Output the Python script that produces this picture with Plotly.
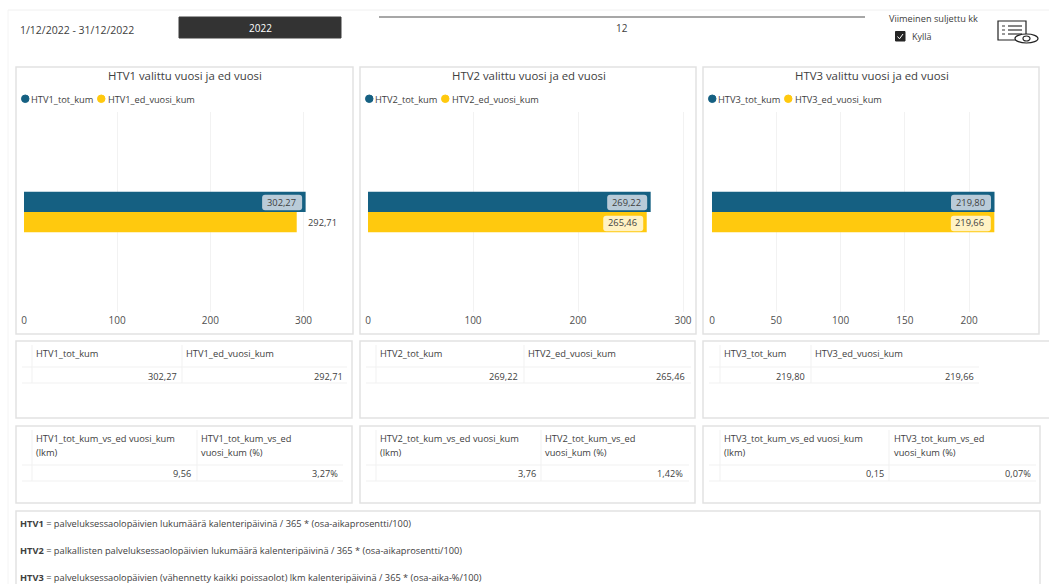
import plotly.graph_objects as go

W, H = 1049, 584
FONT = "Open Sans"
TXT = "#404040"

series_names = ["HTV1", "HTV2", "HTV3"]
tot_kum = [302.27, 269.22, 219.80]
ed_vuosi_kum = [292.71, 265.46, 219.66]
diff_lkm = [9.56, 3.76, 0.15]
diff_pct = [3.27, 1.42, 0.07]
x_ticks = [[0, 100, 200, 300], [0, 100, 200, 300], [0, 50, 100, 150, 200]]
px_per_unit = [0.9317, 1.05, 1.2853]
BLUE = "#156082"
YELLOW = "#FFC90E"

def fx(p): return p / W
def fy(p): return 1 - p / H

shapes, ann = [], []

def text(x, y, s, size=10, color=TXT, anchor="left"):
    if anchor == "left":
        x -= 0.7
    ann.append(dict(xref="paper", yref="paper", x=fx(x), y=fy(y), text=s, showarrow=False,
                    xanchor=anchor, yanchor="middle", align="left", borderpad=0,
                    font=dict(family=FONT, size=size, color=color)))

def rect(x0, y0, x1, y1, line="#E2E2E2", fill="#FFFFFF", w=1.5):
    shapes.append(dict(type="rect", xref="paper", yref="paper", x0=fx(x0), x1=fx(x1), y0=fy(y0), y1=fy(y1),
                       line=dict(color=line, width=w), fillcolor=fill, layer="below"))

def line(x0, y0, x1, y1, color="#F1F1F1", w=1):
    shapes.append(dict(type="line", xref="paper", yref="paper", x0=fx(x0), x1=fx(x1), y0=fy(y0), y1=fy(y1),
                       line=dict(color=color, width=w), layer="below"))

def circle(x0, y0, x1, y1, fill, lc=None, w=1):
    shapes.append(dict(type="circle", xref="paper", yref="paper", x0=fx(x0), x1=fx(x1), y0=fy(y0), y1=fy(y1),
                       fillcolor=fill, line=dict(color=lc or fill, width=w)))

def label_box(xref, value, yc, fill, w=40, h=15.5, gap=3.5, r=3):
    """Rounded data-label background, anchored to the bar end on the x axis."""
    x1, x0 = -gap, -gap - w
    y0, y1 = -h / 2, h / 2
    path = (f"M {x0+r} {y0} L {x1-r} {y0} Q {x1} {y0} {x1} {y0+r} L {x1} {y1-r} Q {x1} {y1} {x1-r} {y1} "
            f"L {x0+r} {y1} Q {x0} {y1} {x0} {y1-r} L {x0} {y0+r} Q {x0} {y0} {x0+r} {y0} Z")
    shapes.append(dict(type="path", xref=xref, yref="paper", xsizemode="pixel", ysizemode="pixel",
                       xanchor=value, yanchor=fy(yc), path=path, fillcolor=fill, line=dict(width=0), layer="above"))

def num(v):
    return f"{v:.2f}".replace(".", ",")

# page frame
line(8, 10, 1049, 10, "#F0F0F0", 1)
line(8, 10, 8, 584, "#F4F4F4", 1)

# top controls
text(20, 29.5, "1/12/2022 - 31/12/2022", 10.5)
rect(179, 17, 341, 38, "#3A3A3A", "#333333", 1)
text(260.5, 28, "2022", 10, "#FFFFFF", "center")
line(379, 17, 865, 17, "#505050", 1.2)
text(622, 28, "12", 10, TXT, "center")
text(889, 19, "Viimeinen suljettu kk", 9.2)
rect(895.5, 31.5, 905, 41, "#252525", "#252525", 1)
line(897.5, 36.5, 899.5, 38.8, "#FFFFFF", 1)
line(899.5, 38.8, 903, 34, "#FFFFFF", 1)
text(911.5, 37, "Kyllä", 9)
# report icon
rect(998, 21, 1026, 40, "#222222", "#FFFFFF", 1.2)
for yy in (26, 30, 34):
    line(1002, yy, 1005, yy, "#555555", 1.2)
    line(1008, yy, 1022, yy, "#333333", 1.2)
circle(1015, 34, 1038, 43, "#FFFFFF", "#222222", 1.2)
circle(1023, 36, 1030, 41, "#FFFFFF", "#222222", 1.2)

panel_x = [(16, 353), (360, 696), (703, 1049)]
axis_x0 = [24, 368, 712]
axis_x1 = [341, 685, 1030]
fig = go.Figure()
layout_axes = {}
for i, name in enumerate(series_names):
    px0, px1 = panel_x[i]
    rect(px0, 67, px1 if i < 2 else 1039, 334)
    text((px0 + (px1 if i < 2 else 1039)) / 2 + 0.5, 76, f"{name} valittu vuosi ja ed vuosi", 11.4, "#404040", "center")
    leg_x = px0 + 5.5
    circle(leg_x, 95, leg_x + 7.5, 102.5, BLUE)
    text(leg_x + 9, 99.5, f"{name}_tot_kum", 9.3)
    circle(leg_x + 76, 95, leg_x + 83.5, 102.5, YELLOW)
    text(leg_x + 86, 99.5, f"{name}_ed_vuosi_kum", 9.2)

    xa = "x" if i == 0 else f"x{i+1}"
    ya = "y" if i == 0 else f"y{i+1}"
    fig.add_trace(go.Bar(y=[name], x=[tot_kum[i]], orientation="h", marker=dict(color=BLUE, line=dict(width=0)),
                         name=f"{name}_tot_kum", xaxis=xa, yaxis=ya, showlegend=False))
    fig.add_trace(go.Bar(y=[name], x=[ed_vuosi_kum[i]], orientation="h", marker=dict(color=YELLOW, line=dict(width=0)),
                         name=f"{name}_ed_vuosi_kum", xaxis=xa, yaxis=ya, showlegend=False))
    rng = (axis_x1[i] - axis_x0[i]) / px_per_unit[i]
    suffix = "" if i == 0 else str(i + 1)
    layout_axes[f"xaxis{suffix}"] = dict(domain=[fx(axis_x0[i]), fx(axis_x1[i])], range=[0, rng], anchor=ya,
                                         tickvals=x_ticks[i], ticks="", showline=False, zeroline=False,
                                         gridcolor="#F2F2F2", gridwidth=1, ticklabelstandoff=1,
                                         tickfont=dict(family=FONT, size=10, color="#505050"))
    layout_axes[f"yaxis{suffix}"] = dict(domain=[fy(312), fy(112)], anchor=xa, showticklabels=False, ticks="",
                                         showgrid=False, zeroline=False, showline=False, autorange="reversed")
    # data labels
    label_box(xa, tot_kum[i], 202.5, "#B9CBD8")
    ann.append(dict(xref=xa, yref=ya, x=tot_kum[i], y=name, xshift=-8, yshift=10, xanchor="right", yanchor="middle",
                    text=num(tot_kum[i]), showarrow=False, font=dict(family=FONT, size=9.3, color="#404040")))
    if i == 0:
        ann.append(dict(xref=xa, yref=ya, x=ed_vuosi_kum[i], y=name, xshift=9, yshift=-10, xanchor="left", yanchor="middle",
                        text=num(ed_vuosi_kum[i]), showarrow=False, font=dict(family=FONT, size=9.3, color="#404040")))
    else:
        label_box(xa, ed_vuosi_kum[i], 223.5, "#FFF2C4")
        ann.append(dict(xref=xa, yref=ya, x=ed_vuosi_kum[i], y=name, xshift=-8, yshift=-10, xanchor="right", yanchor="middle",
                        text=num(ed_vuosi_kum[i]), showarrow=False, font=dict(family=FONT, size=9.3, color="#404040")))

# upper tables: header xs, separators, value right edges
upper_hdr = [(36, 186), (380, 528), (724, 815)]
upper_sep = [(32, 182), (376, 524), (720, 811)]
upper_val = [(178, 344), (519, 686), (806, 975)]
upper_end = [347, 691, 979]
lower_hdr = [(36, 201), (380, 545), (724, 894)]
lower_sep = [(32, 197), (376, 541), (720, 889)]
lower_val = [(192, 339), (537, 684), (885, 1032)]
lower_end = [343, 689, 1036]
for i, name in enumerate(series_names):
    px0, px1 = panel_x[i]
    rect(px0, 341, (px1 - 1) if i < 2 else 1053, 418)
    rect(px0, 426, (px1 - 1) if i < 2 else 1040, 503)
    # upper
    line(px0 + 6, 367, upper_end[i], 367)
    line(px0 + 6, 383, upper_end[i], 383)
    for s in upper_sep[i]:
        line(s, 345, s, 383)
    text(upper_hdr[i][0], 353.5, f"{name}_tot_kum", 9.3)
    text(upper_hdr[i][1], 353.5, f"{name}_ed_vuosi_kum", 9.3)
    text(upper_val[i][0], 376, num(tot_kum[i]), 9.2, TXT, "right")
    text(upper_val[i][1], 376, num(ed_vuosi_kum[i]), 9.2, TXT, "right")
    # lower
    line(px0 + 6, 465, lower_end[i], 465)
    line(px0 + 6, 481, lower_end[i], 481)
    for s in lower_sep[i]:
        line(s, 430, s, 481)
    text(lower_hdr[i][0], 438.5, f"{name}_tot_kum_vs_ed vuosi_kum", 9.3)
    text(lower_hdr[i][0], 452.5, "(lkm)", 9.3)
    text(lower_hdr[i][1], 438.5, f"{name}_tot_kum_vs_ed", 9.3)
    text(lower_hdr[i][1], 452.5, "vuosi_kum (%)", 9.3)
    text(lower_val[i][0], 473, num(diff_lkm[i]), 9.2, TXT, "right")
    text(lower_val[i][1], 473, num(diff_pct[i]) + "%", 9.2, TXT, "right")

# notes
rect(16, 511, 1040, 590)
text(20, 523, "<b>HTV1</b> = palveluksessaolopäivien lukumäärä kalenteripäivinä / 365 * (osa-aikaprosentti/100)", 9.25)
text(20, 550.5, "<b>HTV2</b> = palkallisten palveluksessaolopäivien lukumäärä kalenteripäivinä / 365 * (osa-aikaprosentti/100)", 9.25)
text(20, 577.5, "<b>HTV3</b> = palveluksessaolopäivien (vähennetty kaikki poissaolot) lkm kalenteripäivinä / 365 * (osa-aika-%/100)", 9.25)

fig.update_layout(width=W, height=H, margin=dict(l=0, r=0, t=0, b=0, autoexpand=False), paper_bgcolor="white",
                  plot_bgcolor="rgba(0,0,0,0)", barmode="group", bargap=0.797, bargroupgap=0, showlegend=False,
                  shapes=shapes, annotations=ann, font=dict(family=FONT), **layout_axes)
fig.write_html("out.html", post_script="document.body.style.margin='0';", config=dict(displayModeBar=False))
